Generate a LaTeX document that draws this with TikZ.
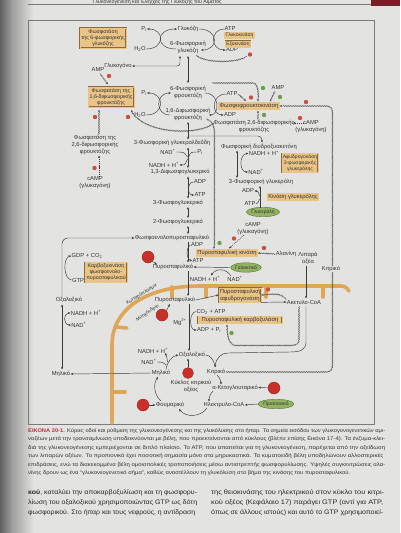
\documentclass[tikz,border=0pt]{standalone}
\usepackage{fontspec}
\setmainfont{Liberation Sans}
\usepackage{graphicx}
\usetikzlibrary{arrows.meta,decorations.pathmorphing,shapes.geometric}
\definecolor{pagebg}{HTML}{E3E3E1}
\definecolor{txt}{HTML}{333333}
\definecolor{lnc}{HTML}{3A3A3A}
\definecolor{enzf}{HTML}{E9C486}
\definecolor{enzb}{HTML}{8C6A3C}
\definecolor{memb}{HTML}{DFA657}
\definecolor{rdc}{HTML}{C9503F}
\definecolor{bigr}{HTML}{C8302A}
\definecolor{gdc}{HTML}{6E9E48}
\definecolor{ellf}{HTML}{93B262}
\definecolor{elld}{HTML}{4E7A32}
\definecolor{caprd}{HTML}{C0303A}
\definecolor{framec}{HTML}{7A7A7A}
\definecolor{maroonc}{HTML}{7A1E26}
\newcommand\fA{\fontsize{5.8}{7}\selectfont}
\newcommand\fB{\fontsize{5}{6}\selectfont}
\newcommand\fC{\fontsize{5.3}{6}\selectfont}
\newcommand\fD{\fontsize{6.5}{7.5}\selectfont}
\newcommand\fE{\fontsize{4.8}{5.2}\selectfont}
\tikzset{
 lb/.style={font=\fA, text=txt, inner sep=0.3pt, align=center},
 enz/.style={draw=enzb, fill=enzf, double=enzf, double distance=0.6pt, line width=0.35pt, font=\fC, text=txt, align=center, inner sep=1.4pt},
 enzs/.style={enz, font=\fB, inner sep=0.8pt},
 rd/.style={circle, fill=rdc, inner sep=0pt, minimum size=4.4pt},
 gd/.style={circle, fill=gdc, inner sep=0pt, minimum size=4.4pt},
 bigc/.style={circle, fill=bigr, draw=bigr!70!black, line width=0.3pt, inner sep=0pt, minimum size=12pt},
 ell/.style={ellipse, fill=ellf, draw=elld, line width=0.4pt, font=\fB, text=txt, inner sep=0pt, minimum height=9.5pt},
 ar/.style={draw=lnc, line width=0.45pt, -{Stealth[length=2.6pt,width=2.2pt]}},
 dar/.style={draw=lnc, line width=0.45pt, {Stealth[length=2.6pt,width=2.2pt]}-{Stealth[length=2.6pt,width=2.2pt]}},
 pl/.style={draw=lnc, line width=0.45pt},
 wv/.style={draw=lnc!85, line width=0.4pt, decorate, decoration={snake, amplitude=0.55pt, segment length=1.7pt, pre length=0.5pt, post length=2.5pt}},
 wva/.style={wv, -{Stealth[length=2.6pt,width=2.2pt]}},
 dsa/.style={ar, dash pattern=on 1.2pt off 0.9pt},
 mb/.style={draw=memb, line width=3.6pt, line cap=round},
 captx/.style={font=\fC, text=txt, inner sep=0pt, anchor=west},
 bodtx/.style={font=\fD, text=black!85, inner sep=0pt, anchor=west}
}
\begin{document}
\begin{tikzpicture}[x=1pt,y=-1pt]
\useasboundingbox (0,0) rectangle (400,533);
\begin{scope}
\clip (0,0) rectangle (400,533);
% page
\fill[pagebg] (0,0) rectangle (400,533);
\shade[left color=black!62, right color=black!38] (0,0) rectangle (12,533);
\shade[left color=black!38, right color=pagebg] (12,0) rectangle (34,533);
% header
\draw[framec, line width=0.4pt] (28,4.5) -- (372,4.5);
\fill[maroonc] (371,0) rectangle (400,5.5);
\node[font=\fC, text=txt, anchor=base east, inner sep=0] (hdr) at (222,3) {Γλυκονεογένεση και Έλεγχος της Γλυκόζης του Αίματος};
\end{scope}
% frame
\draw[framec, line width=0.6pt] (28,20) rectangle (374,424);

% ---------- membrane ----------
\draw[mb] (112,423) -- (112,345) .. controls (112,308) and (148,286) .. (200,286) -- (341,286) .. controls (345,286) and (347,288) .. (349,291);
\foreach \x in {172,206,266,323} \draw[mb] (\x,287) -- (\x,297);
\draw[mb] (116,327) -- (127,328);
\draw[mb] (112,392) -- (125,392);
\node[font=\fE, text=txt, rotate=32, inner sep=0] (cyto) at (141.5,294.5) {Κυτταρόπλασμα};
\node[font=\fE, text=txt, rotate=34, inner sep=0] (mito) at (147.5,313) {Μιτοχόνδριο};

% ---------- top: glucose ----------
\node[enz] (e6p) at (103,38) {Φωσφατάση\\της 6-φωσφορικής\\γλυκόζης};
\node[lb] (pi1) at (144,29) {P\textsubscript{i}};
\node[lb] (h2o1) at (140,49) {H\textsubscript{2}O};
\node[lb] (glc) at (188,29) {Γλυκόζη};
\node[lb] (g6p) at (188,47.5) {6-Φωσφορική\\γλυκόζη};
\node[lb] (atp1) at (230,29) {ATP};
\node[lb] (adp1) at (232,50) {ADP};
\node[enzs] (gk) at (239.5,35.5) {Γλυκοκινάση};
\node[enzs] (hk) at (238,44) {Εξοκινάση};
\node[rd] (r1) at (250,54.5) {};
\draw[ar] (h2o1.east) .. controls (165,49) and (165,29) .. (pi1.east);
\draw[ar] (176,49) .. controls (155,49) and (155,29) .. (glc.west);
\draw[ar] (glc.east) .. controls (219,29) and (219,50) .. (201,50);
\draw[ar] (atp1.west) .. controls (210,29) and (210,50) .. (adp1.west);
\draw[wv] (196,55) .. controls (205,63) and (236,63) .. (247,56);
\node[lb] (glyc) at (118,66) {Γλυκογόνο};
\draw[dar, rounded corners=3pt] (180,56) -- (180,66) -- (glyc.east);
\draw[dar] (188,56) -- (188,83);

% ---------- fructose ----------
\node[lb] (amp1) at (98,70) {AMP};
\node[rd] (r2) at (109,76) {};
\draw[wva] (100,73.5) -- (108,84.5);
\node[enz] (e16) at (111,97) {Φωσφατάση της\\1,6-διφωσφορικής\\φρουκτόζης};
\node[lb] (pi2) at (144,93) {P\textsubscript{i}};
\node[lb] (h2o2) at (140,115) {H\textsubscript{2}O};
\node[lb] (f6p) at (188,92) {6-Φωσφορική\\φρουκτόζη};
\node[lb] (f16) at (188,114.5) {1,6-Διφωσφορική\\φρουκτόζη};
\node[lb] (atp2) at (232,94) {ATP};
\node[lb] (adp2) at (230,115) {ADP};
\node[enz, font=\fA, inner sep=0.9pt] (pfk) at (249,106) {Φωσφοφρουκτοκινάση};
\draw[ar] (h2o2.east) .. controls (165,115) and (165,93) .. (pi2.east);
\draw[ar] (170,115) .. controls (155,115) and (155,93) .. (171,93);
\draw[ar] (205,93) .. controls (220,93) and (220,115) .. (209,115);
\draw[ar] (atp2.west) .. controls (211,94) and (211,115) .. (adp2.west);
\node[rd] (r3) at (251,97.5) {};
\draw[wva] (atp2.east) -- (246,101);
\node[lb] (amp2) at (278,88) {AMP};
\node[gd] (g1) at (280,97) {};
\draw[wva] (275,91) -- (270,101.5);
\node[gd] (g2) at (263,88) {};
\draw[wva] (212,83) -- (252,83) .. controls (257,83) and (258,90) .. (258,101.5);
\node[lb] (f26) at (254,126) {Φωσφατάση 2,6-διφωσφορικής\\φρουκτόζης};
\node[gd] (g3) at (264,115) {};
\draw[wva] (258,119.5) -- (258,110.5);
\node[lb] (camp2) at (311,126.5) {cAMP\\(γλυκαγόνη)};
\node[rd] (r4) at (300,118) {};
\draw[dsa] (304,123) -- (293,123);
% left F2,6BPase
\node[lb] (f26ase) at (95,145) {Φωσφατάση της\\2,6-διφωσφορικής\\φρουκτόζης};
\node[rd] (r5) at (95,117) {};
\draw[wva] (99,135) -- (99,109.5);
\node[rd] (r6) at (94.5,168) {};
\node[lb] (camp1) at (95,183) {cAMP\\(γλυκαγόνη)};
\draw[dsa] (99,177) -- (99,155.5);
% F2,6BP -> F1,6BPase
\node[rd] (r7) at (128,117) {};
\draw[wva] (214,123) .. controls (200,135) and (145,135) .. (131,110);
% F1,6BP -> PK
\draw[wva] (206,119) .. controls (212,121) and (214,126) .. (214,133) -- (214,249);
\node[gd] (g4) at (219.5,243) {};

% ---------- triose ----------
\draw[dar] (188,122) -- (188,139.5);
\node[lb] (gap) at (172,143) {3-Φωσφορική γλυκεραλδεΰδη};
\draw[ar, rounded corners=4pt] (188,136) -- (262,136) -- (262,142.5);
\node[lb] (dhap) at (259,146.5) {Φωσφορική διυδροξυακετόνη};
\node[lb] (nad1) at (168,152) {NAD\textsuperscript{+}};
\node[lb] (pi3) at (200,152) {P\textsubscript{i}};
\node[lb] (nadh1) at (164,165) {NADH + H\textsuperscript{+}};
\draw[dar] (188,147.5) -- (188,168);
\draw[pl] (nad1.east) .. controls (184,152) .. (187.5,157);
\draw[pl] (pi3.west) .. controls (191,152) .. (188.5,157);
\draw[ar] (187.5,159) .. controls (185,165) .. (nadh1.east);
\node[lb] (bpg) at (180,172) {1,3-Διφωσφογλυκερικό};
\draw[dar] (188,176.5) -- (188,198.5);
\node[lb] (adp3) at (200,182) {ADP};
\node[lb] (atp3) at (200,195) {ATP};
\draw[ar] (adp3.west) .. controls (187,182) and (187,195) .. (atp3.west);
\node[lb] (pg3) at (178,203) {3-Φωσφογλυκερικό};
\draw[dar] (188,207) -- (188,218);
\node[lb] (pg2) at (178,222) {2-Φωσφογλυκερικό};
\draw[dar] (188,226) -- (188,234);
\node[lb] (pep) at (172,238) {Φωσφοενολοπυροσταφυλικό};
\draw[ar] (188,242) -- (188,262.5);
\node[lb] (adp4) at (197,245) {ADP};
\node[lb] (atp4) at (198,261) {ATP};
\draw[ar] (adp4.west) .. controls (186,247) and (186,259) .. (atp4.west);
\node[enz, font=\fA, inner sep=0.9pt] (pk) at (227,253) {Πυροσταφυλική κινάση};
\node[lb] (ala) at (286,254) {Αλανίνη};
\node[rd] (r8) at (264,248) {};
\draw[wva] (ala.west) -- (pk.east);
\node[lb] (camp3) at (253,228.5) {cAMP\\(γλυκαγόνη)};
\node[rd] (r9) at (234,238.5) {};
\draw[dsa] (244,235) -- (229,248.5);

% ---------- glycerol ----------
\node[lb] (gl3p) at (261,182) {3-Φωσφορική γλυκερόλη};
\draw[dar] (237,150.5) -- (237,178);
\node[lb] (nadh2) at (264,153.5) {NADH + H\textsuperscript{+}};
\node[lb] (nad2) at (256,172) {NAD\textsuperscript{+}};
\draw[dar] (nadh2.west) .. controls (239,154) and (239,172) .. (nad2.west);
\node[enz, font=\fB, inner sep=1pt] (g3pdh) at (300,163) {Αφυδρογονάση\\3-φωσφορικής\\γλυκερόλης};
\node[ell] (glyl) at (263,212) {Γλυκερόλη};
\node[enz, font=\fA, inner sep=0.9pt] (glk) at (293,197) {Κινάση γλυκερόλης};
\node[lb] (adp5) at (248,191) {ADP};
\node[lb] (atp5) at (250,204) {ATP};
\draw[ar] (260,207.5) -- (260,186);
\draw[pl] (atp5.east) .. controls (258,203) .. (259.5,199);
\draw[ar] (259.5,196) .. controls (258,191) .. (adp5.east);

% ---------- pyruvate / lactate ----------
\node[lb] (pyrc) at (173,267) {Πυροσταφυλικό};
\node[bigc] (b1) at (148,257) {};
\draw[ar] (b1.south east) -- (157,264.5);
\node[ell] (lac) at (246,267.5) {Γαλακτικό};
\draw[ar] (lac.west) -- (pyrc.east);
\node[lb] (nadh3) at (205,279) {NADH + H\textsuperscript{+}};
\node[lb] (nad3) at (235,279) {NAD\textsuperscript{+}};
\draw[ar] (231,276) .. controls (226,268) and (216,268) .. (211,275.5);
\draw[ar] (188,271) -- (188,296);

% ---------- PEPCK / cytosolic OAA ----------
\node[lb] (oaac) at (69,300) {Οξαλοξικό};
\draw[ar, rounded corners=6pt] (62,296) -- (62,238) -- (pep.west);
\node[lb] (gdp) at (87,256) {GDP + CO\textsubscript{2}};
\node[lb] (gtp) at (78,280) {GTP};
\draw[ar] (gtp.west) .. controls (63,279) and (63,257) .. (gdp.west);
\node[enz] (pepck) at (106,272.5) {Καρβοξυκινάση\\φωσφοενολο-\\πυροσταφυλικού};
\draw[dar] (62,304.5) -- (62,369.5);
\node[lb] (nadh6) at (86,313) {NADH + H\textsuperscript{+}};
\node[lb] (nad6) at (79,325) {NAD\textsuperscript{+}};
\draw[dar] (nadh6.west) .. controls (63,313) and (63,325) .. (nad6.west);
\node[lb] (malc) at (61,374) {Μηλικό};

% ---------- mitochondrion ----------
\node[lb] (pyrm) at (175,300) {Πυροσταφυλικό};
\node[bigc] (b2) at (162,315) {};
\draw[ar] (b2.north east) -- (170,304);
\node[lb] (mg) at (180,322) {Mg\textsuperscript{2+}};
\node[enz, font=\fA, inner sep=0.9pt] (pdh) at (240,295) {Πυροσταφυλική\\αφυδρογονάση};
\draw[ar] (pyrm.east) -- (pdh.west);
\node[lb] (acc) at (304,302) {Ακετυλο-CoA};
\draw[ar] (pdh.south east) -- (acc.west);
\node[rd] (r10) at (268,289.5) {};
\draw[wva] (acc.north west) .. controls (280,294) .. (pdh.east);
\node[lb] (fa) at (308,258) {Λιπαρά\\οξέα};
\draw[ar] (306,265.5) -- (306,298.5);
\node[lb] (co2) at (211,311.5) {CO\textsubscript{2} + ATP};
\node[enz, font=\fA, inner sep=0.9pt, minimum width=84pt] (pc) at (240,320) {Πυροσταφυλική καρβοξυλάση};
\node[lb] (adppi) at (209,330) {ADP + P\textsubscript{i}};
\draw[ar] (co2.west) .. controls (189,312) and (189,330) .. (adppi.west);
\draw[ar] (189,304) -- (189,351);
\node[lb] (oaam) at (192,355) {Οξαλοξικό};
\node[gd] (g5) at (231.5,333) {};
\draw[wva] (299,306) -- (299,339) .. controls (299,343) and (296,345) .. (291,345) -- (236,345) .. controls (230,345) and (227,338) .. (227,324.5);
\node[lb] (cit) at (216,372) {Κιτρικό};
\draw[ar] (306,306) -- (306,342) .. controls (306,350) and (300,352) .. (290,352) -- (228,353) .. controls (221,353) and (216,358) .. (215,367.5);
\draw[pl] (oaam.east) .. controls (210,355) and (214,360) .. (215,366);
\draw[wva] (cit.east) -- (325,372) .. controls (330,372) and (332,370) .. (332,365) -- (332,113) .. controls (332,108) and (330,106) .. (325,106) -- (pfk.east);
\node[rd] (r11) at (306,102) {};
\node[lb, fill=pagebg] (citl) at (331,269) {Κιτρικό};
\node[bigc, minimum size=11pt] (b3) at (188,373) {};
\draw[ar] (b3.north) -- (188,358.5);
\node[lb] (tca) at (191,386.5) {Κύκλος κιτρικού\\οξέος};
\node[lb] (akg) at (235,387.5) {α-Κετογλουταρικό};
\draw[ar] (217,375) .. controls (220,378) and (221,381) .. (221,384.5);
\node[bigc] (b4) at (274,388) {};
\draw[ar] (b4) -- (akg.east);
\node[lb] (scoa) at (224,405) {Ηλεκτρυλο-CoA};
\draw[ar] (213,391) .. controls (210,394) and (209,398) .. (209,401.5);
\node[ell] (prop) at (276,404) {Προπιονικό};
\draw[ar] (prop.west) -- (scoa.east);
\node[lb] (fum) at (170,405) {Φουμαρικό};
\node[bigc] (b5) at (143,405) {};
\draw[ar] (b5) -- (fum.west);
\draw[ar] (207,408) .. controls (201,417) and (186,418) .. (179,409);
\node[lb] (malm) at (161,373) {Μηλικό};
\draw[ar] (161,401) .. controls (154,395) and (153,384) .. (158,377);
\node[lb] (nadh5) at (153,351) {NADH + H\textsuperscript{+}};
\node[lb] (nad5) at (149,362) {NAD\textsuperscript{+}};
\draw[ar] (166,369.5) .. controls (167,362) and (172,356) .. (oaam.west);
\draw[pl] (nad5.east) .. controls (162,362) .. (166.5,365);
\draw[ar] (167.5,362) .. controls (167,357) .. (165,353);
\draw[ar] (malm.west) -- (malc.east);

% ---------- caption ----------
\node[captx] (c1) at (28,431) {\resizebox{357pt}{\height}{\textcolor{caprd}{\textbf{ΕΙΚΟΝΑ 20-1.}} Κύριες οδοί και ρύθμιση της γλυκονεογένεσης και της γλυκόλυσης στο ήπαρ. Τα σημεία εισόδου των γλυκογονογενετικών αμι-}};
\node[captx] (c2) at (28,439.5) {\resizebox{357pt}{\height}{νοξέων μετά την τρανσαμίνωση υποδεικνύονται με βέλη, που προεκτείνονται από κύκλους (βλέπε επίσης Εικόνα 17-4). Τα ένζυμα-κλει-}};
\node[captx] (c3) at (28,448) {\resizebox{357pt}{\height}{διά της γλυκονεογένεσης εμπεριέχονται σε διπλό πλαίσιο. Το ATP, που απαιτείται για τη γλυκονεογένεση, παρέχεται από την οξείδωση}};
\node[captx] (c4) at (28,456.5) {\resizebox{355pt}{\height}{των λιπαρών οξέων. Το προπιονικό έχει ποσοτική σημασία μόνο στα μηρυκαστικά. Τα κυματοειδή βέλη υποδηλώνουν αλλοστερικές}};
\node[captx] (c5) at (28,465) {\resizebox{357pt}{\height}{επιδράσεις, ενώ τα διακεκομμένα βέλη ομοιοπολικές τροποποιήσεις μέσω αντιστρεπτής φωσφορυλίωσης. Υψηλές συγκεντρώσεις αλα-}};
\node[captx] (c6) at (28,473.5) {\resizebox{322pt}{\height}{νίνης δρουν ως ένα “γλυκονεογενετικό σήμα”, καθώς αναστέλλουν τη γλυκόλυση στο βήμα της κινάσης του πυροσταφυλικού.}};

% ---------- body text ----------
\node[bodtx] (b1l) at (28,493) {\resizebox{169pt}{\height}{\textbf{κού}, καταλύει την αποκαρβοξυλίωση και τη φωσφορυ-}};
\node[bodtx] (b2l) at (28,503) {\resizebox{169pt}{\height}{λίωση του οξαλοξικού χρησιμοποιώντας GTP ως δότη}};
\node[bodtx] (b3l) at (28,513) {\resizebox{167pt}{\height}{φωσφορικού. Στο ήπαρ και τους νεφρούς, η αντίδραση}};
\node[bodtx] (b1r) at (211,493) {\resizebox{173pt}{\height}{της θειοκινάσης του ηλεκτρικού στον κύκλο του κιτρι-}};
\node[bodtx] (b2r) at (211,503) {\resizebox{172pt}{\height}{κού οξέος (Κεφάλαιο 17) παράγει GTP (αντί για ATP,}};
\node[bodtx] (b3r) at (211,513) {\resizebox{172pt}{\height}{όπως σε άλλους ιστούς) και αυτό το GTP χρησιμοποιεί-}};
\end{tikzpicture}
\end{document}
